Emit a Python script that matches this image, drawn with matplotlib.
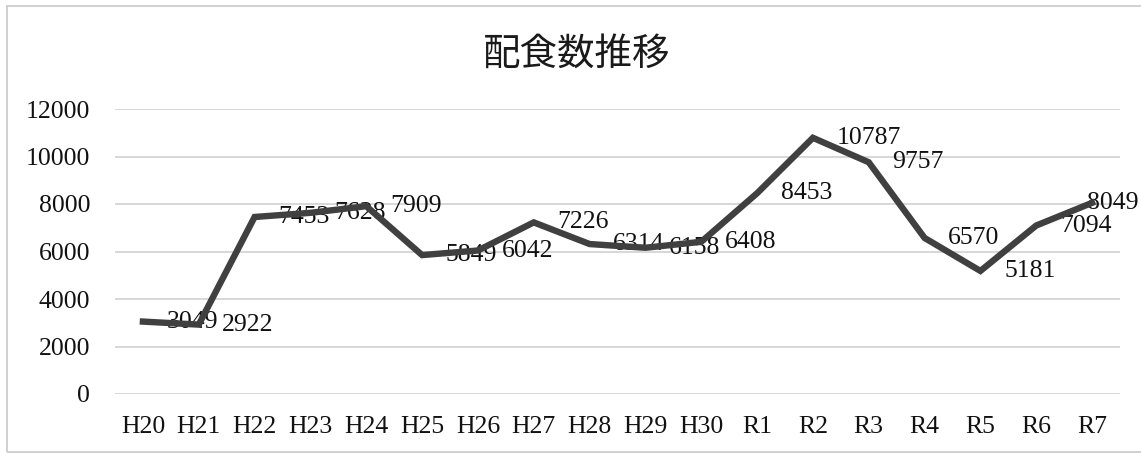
import matplotlib
matplotlib.use('Agg')
import matplotlib.pyplot as plt
from matplotlib.patches import Rectangle

# data
years = ['H20', 'H21', 'H22', 'H23', 'H24', 'H25', 'H26', 'H27', 'H28', 'H29',
         'H30', 'R1', 'R2', 'R3', 'R4', 'R5', 'R6', 'R7']
meals = [3049, 2922, 7453, 7628, 7909, 5849, 6042, 7226, 6314, 6158,
         6408, 8453, 10787, 9757, 6570, 5181, 7094, 8049]
yticks = [0, 2000, 4000, 6000, 8000, 10000, 12000]

serif = ['Liberation Serif', 'DejaVu Serif']
fs = 18.5

fig = plt.figure(figsize=(11.41, 4.53), dpi=100)
ax = fig.add_axes([115/1141, 1 - 394/453, (1120 - 115)/1141, (394 - 109)/453])

x = list(range(len(years)))
ax.plot(x, meals, color='#404040', lw=4.6, solid_joinstyle='miter', zorder=3)

for xi, v in zip(x, meals):
    # last label pushed back so it stays inside the chart
    dx = 17 if xi < len(years) - 1 else -4
    ax.annotate(str(v), (xi, v), xytext=(dx, 0), textcoords='offset points',
                ha='left', va='center', fontsize=fs, family=serif,
                color='#111111', zorder=2)

ax.set_xlim(-0.5, len(years) - 0.5)
ax.set_ylim(0, 12000)
ax.set_yticks(yticks)
ax.set_yticklabels([str(t) for t in yticks], family=serif, fontsize=fs,
                   color='#111111')
ax.set_xticks(x)
ax.set_xticklabels(years, family=serif, fontsize=fs, color='#111111')
ax.tick_params(axis='both', length=0)
ax.tick_params(axis='y', pad=18)
ax.tick_params(axis='x', pad=16)
ax.grid(axis='y', color='#d4d4d4', lw=1.3)
ax.set_axisbelow(True)
for s in ax.spines.values():
    s.set_visible(False)

fig.text(577/1141, 1 - 54/453, '配食数推移', ha='center', va='center',
         fontsize=27, family=['Noto Sans CJK JP', 'DejaVu Sans'],
         color='#1a1a1a')

# chart border
fig.patches.append(Rectangle((7/1141, 1/453), 1.2, 446/453,
                             transform=fig.transFigure, fill=False,
                             edgecolor='#c8c8c8', lw=1.2))

plt.savefig('out.png', dpi=100)
